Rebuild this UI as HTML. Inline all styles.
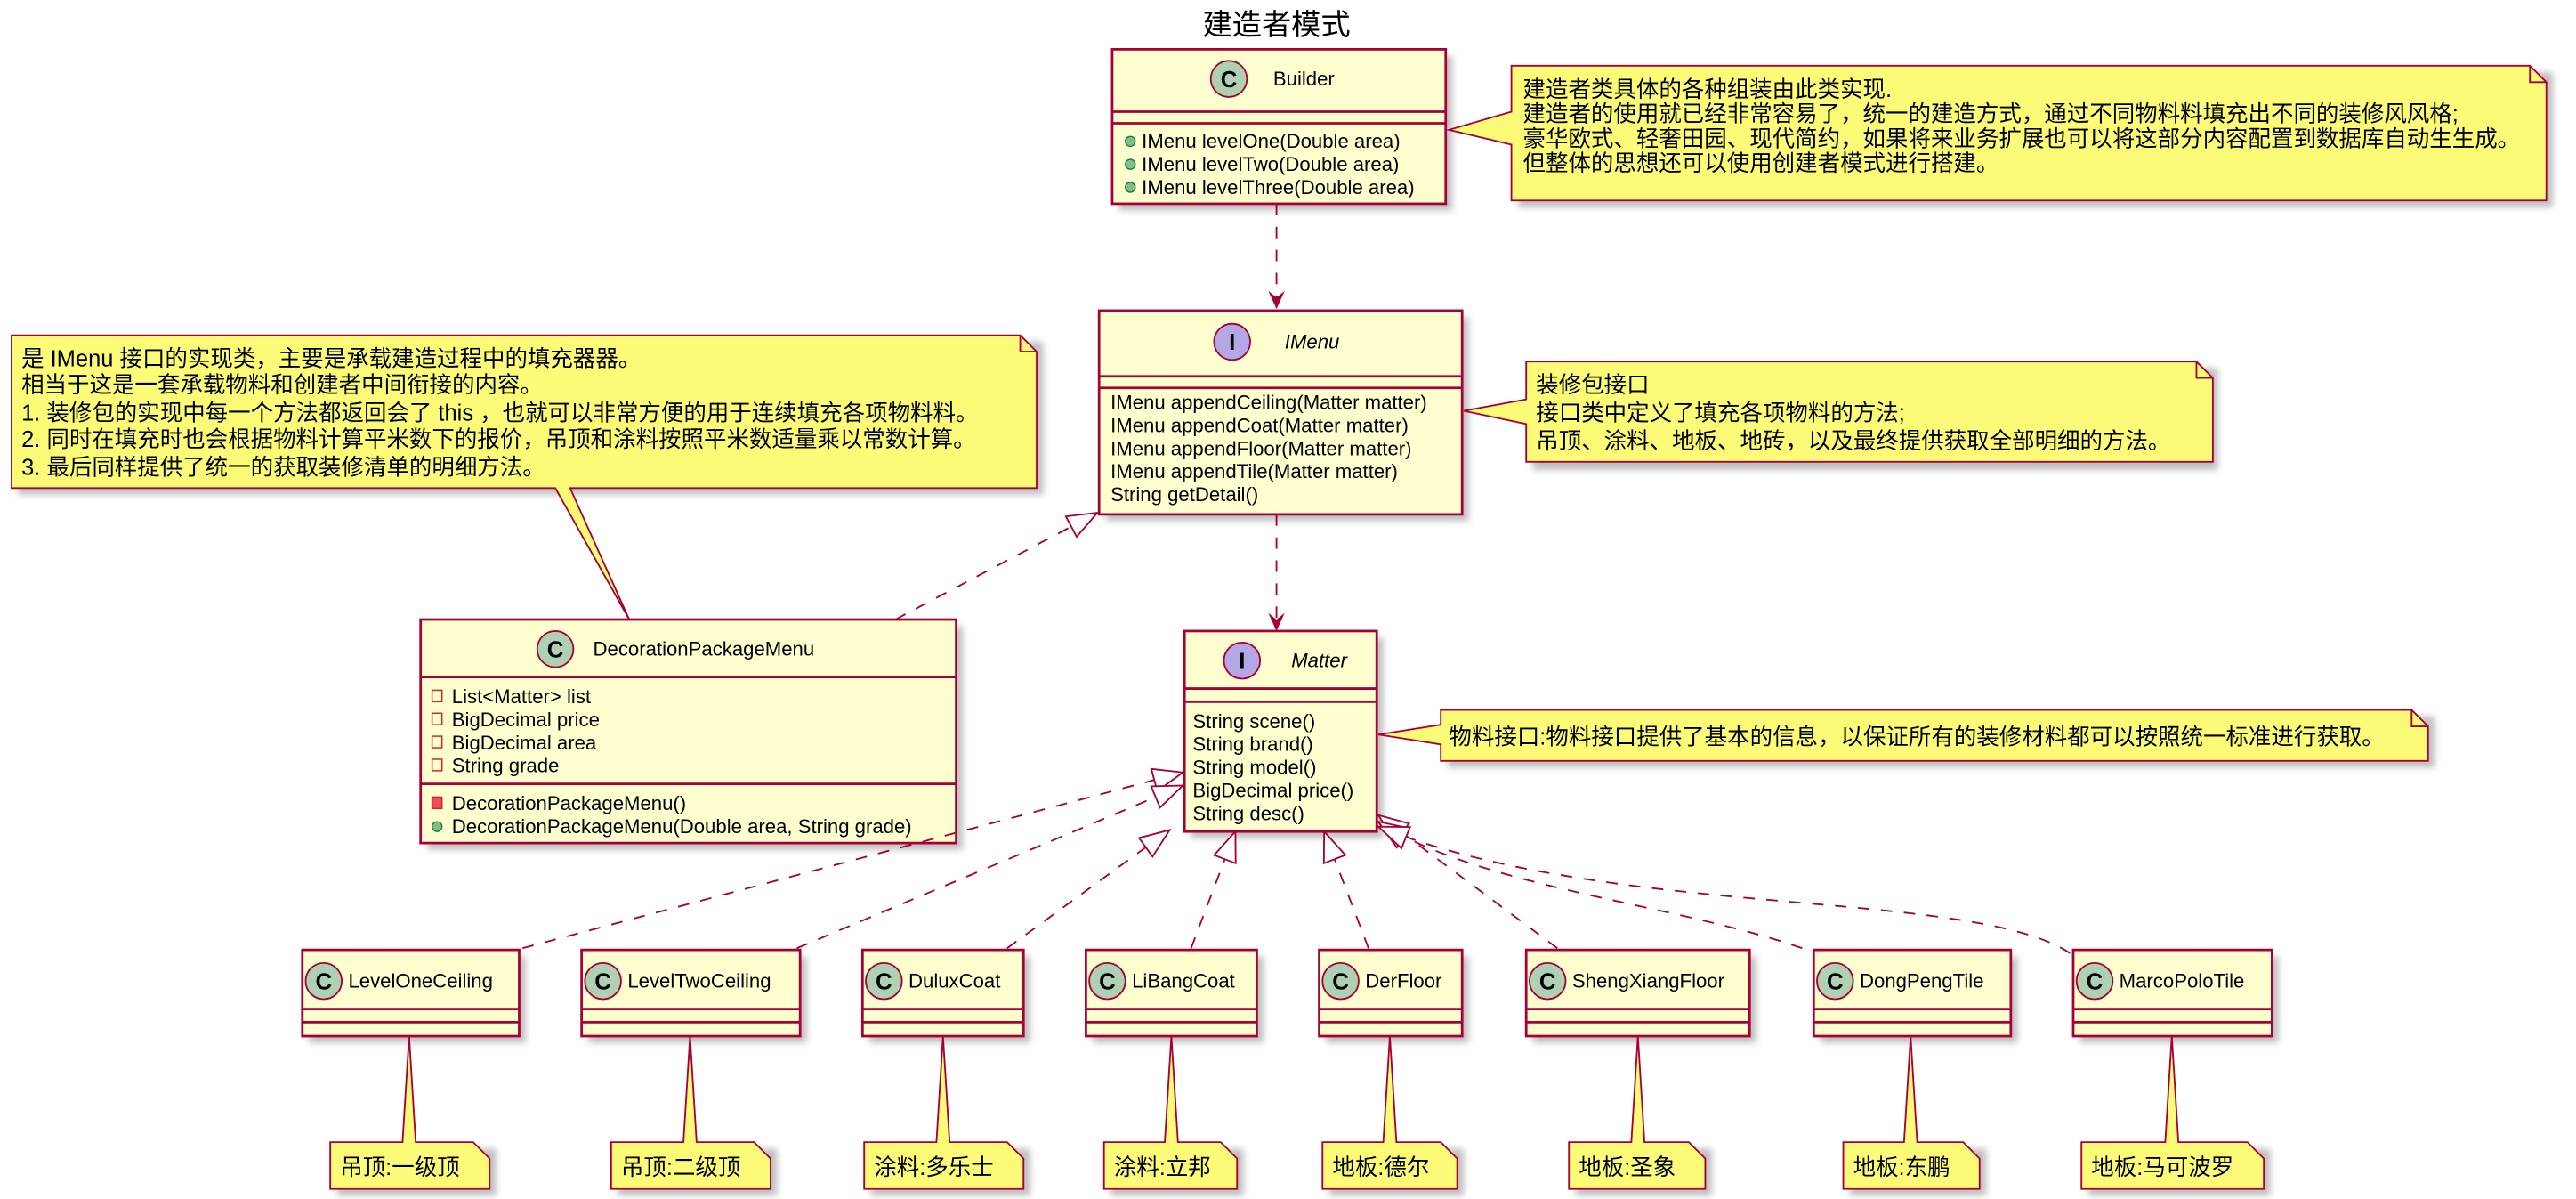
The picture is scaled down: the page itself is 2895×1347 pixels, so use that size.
<!DOCTYPE html>
<html><head><meta charset="utf-8"><style>
html,body{margin:0;padding:0;background:#fff}
svg{display:block}
text{font-family:"Liberation Sans","Noto Sans CJK SC",sans-serif;font-size:12px;fill:#000}
.t{font-size:13.8px}
.b{fill:#FEFECE;stroke:#A80036;stroke-width:1.5}
.n{fill:#FBFB77;stroke:#A80036;stroke-width:1}
.l{stroke:#A80036;stroke-width:1.5}
.d{stroke:#A80036;stroke-width:1;fill:none;stroke-dasharray:7,7}
.s{fill:#000;opacity:.25}
</style></head><body>
<svg width="2895" height="1347" viewBox="0 0 1568 729.6" xmlns="http://www.w3.org/2000/svg">
<defs>
<filter id="sh" x="-10%" y="-10%" width="130%" height="130%"><feGaussianBlur stdDeviation="2"/></filter>
<marker id="ar" viewBox="0 0 12 12" refX="11" refY="6" markerWidth="12" markerHeight="12" markerUnits="userSpaceOnUse" orient="auto"><path d="M0,1 L11,6 L0,11 L4,6 Z" fill="#A80036"/></marker>
<marker id="tr" viewBox="0 0 20 20" refX="19" refY="10" markerWidth="20" markerHeight="20" markerUnits="userSpaceOnUse" orient="auto"><path d="M1,3 L19,10 L1,17 Z" fill="#fff" stroke="#A80036" stroke-width="1"/></marker>
</defs>
<text x="777" y="21" text-anchor="middle" style="font-size:18px">建造者模式</text>

<!-- Builder -->
<rect x="681" y="34" width="203" height="94" class="s" filter="url(#sh)"/>
<rect x="677" y="30" width="203" height="94" class="b"/>
<line x1="677" y1="68" x2="880" y2="68" class="l"/><line x1="677" y1="75" x2="880" y2="75" class="l"/>
<circle cx="748" cy="48" r="11" fill="#ADD1B2" stroke="#A80036"/><text x="748" y="53" text-anchor="middle" style="font-weight:bold;font-size:14px">C</text>
<text x="775" y="52">Builder</text>
<circle cx="688" cy="86" r="3" fill="#84BE84" stroke="#038048" stroke-width=".7"/><text x="695" y="90">IMenu levelOne(Double area)</text>
<circle cx="688" cy="100" r="3" fill="#84BE84" stroke="#038048" stroke-width=".7"/><text x="695" y="104">IMenu levelTwo(Double area)</text>
<circle cx="688" cy="114" r="3" fill="#84BE84" stroke="#038048" stroke-width=".7"/><text x="695" y="118">IMenu levelThree(Double area)</text>

<!-- Note1 -->
<path d="M924,44 L1554,44 L1554,126 L924,126 Z" class="s" filter="url(#sh)"/>
<path d="M920,40 L1540,40 L1550,50 L1550,122 L920,122 L920,88 L882,79 L920,68 Z" class="n"/>
<path d="M1540,40 L1540,50 L1550,50" fill="none" stroke="#A80036"/>
<text class="t" x="927" y="59">建造者类具体的各种组装由此类实现.</text>
<text class="t" x="927" y="74">建造者的使用就已经非常容易了，统一的建造方式，通过不同物料料填充出不同的装修风风格;</text>
<text class="t" x="927" y="89">豪华欧式、轻奢田园、现代简约，如果将来业务扩展也可以将这部分内容配置到数据库自动生生成。</text>
<text class="t" x="927" y="104">但整体的思想还可以使用创建者模式进行搭建。</text>

<line x1="777" y1="124" x2="777" y2="188" class="d" marker-end="url(#ar)"/>

<!-- IMenu -->
<rect x="673" y="193" width="221" height="124" class="s" filter="url(#sh)"/>
<rect x="669" y="189" width="221" height="124" class="b"/>
<line x1="669" y1="229" x2="890" y2="229" class="l"/><line x1="669" y1="236" x2="890" y2="236" class="l"/>
<circle cx="750" cy="208" r="11" fill="#B4A7E5" stroke="#A80036"/><text x="750" y="213" text-anchor="middle" style="font-weight:bold;font-size:14px">I</text>
<text x="782" y="212" style="font-style:italic">IMenu</text>
<text x="676" y="249">IMenu appendCeiling(Matter matter)</text>
<text x="676" y="263">IMenu appendCoat(Matter matter)</text>
<text x="676" y="277">IMenu appendFloor(Matter matter)</text>
<text x="676" y="291">IMenu appendTile(Matter matter)</text>
<text x="676" y="305">String getDetail()</text>

<!-- Note2 -->
<rect x="933" y="224" width="417" height="62" class="s" filter="url(#sh)"/>
<path d="M929,220 L1337,220 L1347,230 L1347,281 L929,281 L929,258 L891,250 L929,243 Z" class="n"/>
<path d="M1337,220 L1337,230 L1347,230" fill="none" stroke="#A80036"/>
<text class="t" x="935" y="239">装修包接口</text>
<text class="t" x="935" y="256">接口类中定义了填充各项物料的方法;</text>
<text class="t" x="935" y="273">吊顶、涂料、地板、地砖，以及最终提供获取全部明细的方法。</text>

<!-- Note3 -->
<rect x="11" y="208" width="624" height="93" class="s" filter="url(#sh)"/>
<path d="M7,204 L621,204 L631,214 L631,297 L347,297 L383,377 L338,297 L7,297 Z" class="n"/>
<path d="M621,204 L621,214 L631,214" fill="none" stroke="#A80036"/>
<text class="t" x="13" y="223">是 IMenu 接口的实现类，主要是承载建造过程中的填充器器。</text>
<text class="t" x="13" y="239">相当于这是一套承载物料和创建者中间衔接的内容。</text>
<text class="t" x="13" y="256">1. 装修包的实现中每一个方法都返回会了 this ，也就可以非常方便的用于连续填充各项物料料。</text>
<text class="t" x="13" y="272">2. 同时在填充时也会根据物料计算平米数下的报价，吊顶和涂料按照平米数适量乘以常数计算。</text>
<text class="t" x="13" y="289">3. 最后同样提供了统一的获取装修清单的明细方法。</text>

<line x1="545" y1="377" x2="668" y2="312" class="d" marker-end="url(#tr)"/>

<!-- DecorationPackageMenu -->
<rect x="260" y="381" width="326" height="136" class="s" filter="url(#sh)"/>
<rect x="256" y="377" width="326" height="136" class="b"/>
<line x1="256" y1="412" x2="582" y2="412" class="l"/><line x1="256" y1="477" x2="582" y2="477" class="l"/>
<circle cx="338" cy="395" r="11" fill="#ADD1B2" stroke="#A80036"/><text x="338" y="400" text-anchor="middle" style="font-weight:bold;font-size:14px">C</text>
<text x="361" y="399">DecorationPackageMenu</text>
<g fill="none" stroke="#C82930" stroke-width=".8"><rect x="263" y="420" width="6" height="7"/><rect x="263" y="434" width="6" height="7"/><rect x="263" y="448" width="6" height="7"/><rect x="263" y="462" width="6" height="7"/></g>
<text x="275" y="428">List&lt;Matter&gt; list</text>
<text x="275" y="442">BigDecimal price</text>
<text x="275" y="456">BigDecimal area</text>
<text x="275" y="470">String grade</text>
<rect x="263" y="485" width="6" height="7" fill="#F24D5C" stroke="#C82930" stroke-width=".8"/>
<text x="275" y="493">DecorationPackageMenu()</text>
<circle cx="266" cy="503" r="3" fill="#84BE84" stroke="#038048" stroke-width=".7"/>
<text x="275" y="507">DecorationPackageMenu(Double area, String grade)</text>

<line x1="777" y1="313" x2="777" y2="384" class="d" marker-end="url(#ar)"/>

<!-- Matter -->
<rect x="725" y="388" width="117" height="122" class="s" filter="url(#sh)"/>
<rect x="721" y="384" width="117" height="122" class="b"/>
<line x1="721" y1="419" x2="838" y2="419" class="l"/><line x1="721" y1="427" x2="838" y2="427" class="l"/>
<circle cx="756" cy="402" r="11" fill="#B4A7E5" stroke="#A80036"/><text x="756" y="407" text-anchor="middle" style="font-weight:bold;font-size:14px">I</text>
<text x="786" y="406" style="font-style:italic">Matter</text>
<text x="726" y="443">String scene()</text>
<text x="726" y="457">String brand()</text>
<text x="726" y="471">String model()</text>
<text x="726" y="485">BigDecimal price()</text>
<text x="726" y="499">String desc()</text>

<!-- Note4 -->
<rect x="881" y="436" width="601" height="31" class="s" filter="url(#sh)"/>
<path d="M877,432 L1468,432 L1478,442 L1478,463 L877,463 L877,453 L839,447 L877,441 Z" class="n"/>
<path d="M1468,432 L1468,442 L1478,442" fill="none" stroke="#A80036"/>
<text class="t" x="882" y="453">物料接口:物料接口提供了基本的信息，以保证所有的装修材料都可以按照统一标准进行获取。</text>

<!-- realizations -->
<line x1="318" y1="577" x2="720" y2="470" class="d" marker-end="url(#tr)"/>
<line x1="485" y1="577" x2="720" y2="478" class="d" marker-end="url(#tr)"/>
<line x1="613" y1="577" x2="712" y2="505" class="d" marker-end="url(#tr)"/>
<line x1="725" y1="577" x2="752" y2="506" class="d" marker-end="url(#tr)"/>
<line x1="833" y1="577" x2="806" y2="506" class="d" marker-end="url(#tr)"/>
<line x1="948" y1="577" x2="839" y2="496" class="d" marker-end="url(#tr)"/>
<path d="M1097,577 C1020,550 900,540 839,500" class="d" marker-end="url(#tr)"/>
<path d="M1260,580 C1200,540 980,560 839,503" class="d" marker-end="url(#tr)"/>

<!-- bottom classes -->
<g>
<rect x="188" y="582" width="132" height="52.5" class="s" filter="url(#sh)"/>
<rect x="358" y="582" width="133" height="52.5" class="s" filter="url(#sh)"/>
<rect x="529" y="582" width="98" height="52.5" class="s" filter="url(#sh)"/>
<rect x="665" y="582" width="104" height="52.5" class="s" filter="url(#sh)"/>
<rect x="807" y="582" width="87" height="52.5" class="s" filter="url(#sh)"/>
<rect x="933" y="582" width="136" height="52.5" class="s" filter="url(#sh)"/>
<rect x="1108" y="582" width="120" height="52.5" class="s" filter="url(#sh)"/>
<rect x="1266" y="582" width="121" height="52.5" class="s" filter="url(#sh)"/>
</g>
<g>
<rect x="184" y="578" width="132" height="52.5" class="b"/>
<rect x="354" y="578" width="133" height="52.5" class="b"/>
<rect x="525" y="578" width="98" height="52.5" class="b"/>
<rect x="661" y="578" width="104" height="52.5" class="b"/>
<rect x="803" y="578" width="87" height="52.5" class="b"/>
<rect x="929" y="578" width="136" height="52.5" class="b"/>
<rect x="1104" y="578" width="120" height="52.5" class="b"/>
<rect x="1262" y="578" width="121" height="52.5" class="b"/>
</g>
<g class="l">
<line x1="184" y1="614" x2="316" y2="614"/><line x1="184" y1="622" x2="316" y2="622"/>
<line x1="354" y1="614" x2="487" y2="614"/><line x1="354" y1="622" x2="487" y2="622"/>
<line x1="525" y1="614" x2="623" y2="614"/><line x1="525" y1="622" x2="623" y2="622"/>
<line x1="661" y1="614" x2="765" y2="614"/><line x1="661" y1="622" x2="765" y2="622"/>
<line x1="803" y1="614" x2="890" y2="614"/><line x1="803" y1="622" x2="890" y2="622"/>
<line x1="929" y1="614" x2="1065" y2="614"/><line x1="929" y1="622" x2="1065" y2="622"/>
<line x1="1104" y1="614" x2="1224" y2="614"/><line x1="1104" y1="622" x2="1224" y2="622"/>
<line x1="1262" y1="614" x2="1383" y2="614"/><line x1="1262" y1="622" x2="1383" y2="622"/>
</g>
<g fill="#ADD1B2" stroke="#A80036">
<circle cx="197" cy="597" r="11"/><circle cx="367" cy="597" r="11"/><circle cx="538" cy="597" r="11"/><circle cx="674" cy="597" r="11"/><circle cx="816" cy="597" r="11"/><circle cx="942" cy="597" r="11"/><circle cx="1117" cy="597" r="11"/><circle cx="1275" cy="597" r="11"/>
</g>
<g text-anchor="middle">
<text x="197" y="602" style="font-size:14px;font-weight:bold">C</text><text x="367" y="602" style="font-size:14px;font-weight:bold">C</text><text x="538" y="602" style="font-size:14px;font-weight:bold">C</text><text x="674" y="602" style="font-size:14px;font-weight:bold">C</text><text x="816" y="602" style="font-size:14px;font-weight:bold">C</text><text x="942" y="602" style="font-size:14px;font-weight:bold">C</text><text x="1117" y="602" style="font-size:14px;font-weight:bold">C</text><text x="1275" y="602" style="font-size:14px;font-weight:bold">C</text>
</g>
<text x="212" y="601">LevelOneCeiling</text>
<text x="382" y="601">LevelTwoCeiling</text>
<text x="553" y="601">DuluxCoat</text>
<text x="689" y="601">LiBangCoat</text>
<text x="831" y="601">DerFloor</text>
<text x="957" y="601">ShengXiangFloor</text>
<text x="1132" y="601">DongPengTile</text>
<text x="1290" y="601">MarcoPoloTile</text>

<!-- bottom notes -->
<g>
<rect x="205" y="699" width="97" height="28.5" class="s" filter="url(#sh)"/>
<rect x="376" y="699" width="97" height="28.5" class="s" filter="url(#sh)"/>
<rect x="530" y="699" width="97" height="28.5" class="s" filter="url(#sh)"/>
<rect x="676" y="699" width="81" height="28.5" class="s" filter="url(#sh)"/>
<rect x="809" y="699" width="82" height="28.5" class="s" filter="url(#sh)"/>
<rect x="959" y="699" width="83" height="28.5" class="s" filter="url(#sh)"/>
<rect x="1126" y="699" width="83" height="28.5" class="s" filter="url(#sh)"/>
<rect x="1271" y="699" width="111" height="28.5" class="s" filter="url(#sh)"/>
</g>
<path d="M201,695 L245,695 L249,630.5 L253,695 L288,695 L298,705 L298,723.5 L201,723.5 Z" class="n"/>
<path d="M372,695 L416,695 L420,630.5 L424,695 L459,695 L469,705 L469,723.5 L372,723.5 Z" class="n"/>
<path d="M526,695 L570,695 L574,630.5 L578,695 L613,695 L623,705 L623,723.5 L526,723.5 Z" class="n"/>
<path d="M672,695 L709,695 L713,630.5 L717,695 L743,695 L753,705 L753,723.5 L672,723.5 Z" class="n"/>
<path d="M805,695 L842,695 L846,630.5 L850,695 L877,695 L887,705 L887,723.5 L805,723.5 Z" class="n"/>
<path d="M955,695 L993,695 L997,630.5 L1001,695 L1028,695 L1038,705 L1038,723.5 L955,723.5 Z" class="n"/>
<path d="M1122,695 L1159,695 L1163,630.5 L1167,695 L1195,695 L1205,705 L1205,723.5 L1122,723.5 Z" class="n"/>
<path d="M1267,695 L1318,695 L1322,630.5 L1326,695 L1368,695 L1378,705 L1378,723.5 L1267,723.5 Z" class="n"/>
<text class="t" x="207" y="715">吊顶:一级顶</text>
<text class="t" x="378" y="715">吊顶:二级顶</text>
<text class="t" x="532" y="715">涂料:多乐士</text>
<text class="t" x="678" y="715">涂料:立邦</text>
<text class="t" x="811" y="715">地板:德尔</text>
<text class="t" x="961" y="715">地板:圣象</text>
<text class="t" x="1128" y="715">地板:东鹏</text>
<text class="t" x="1273" y="715">地板:马可波罗</text>
</svg>
</body></html>
